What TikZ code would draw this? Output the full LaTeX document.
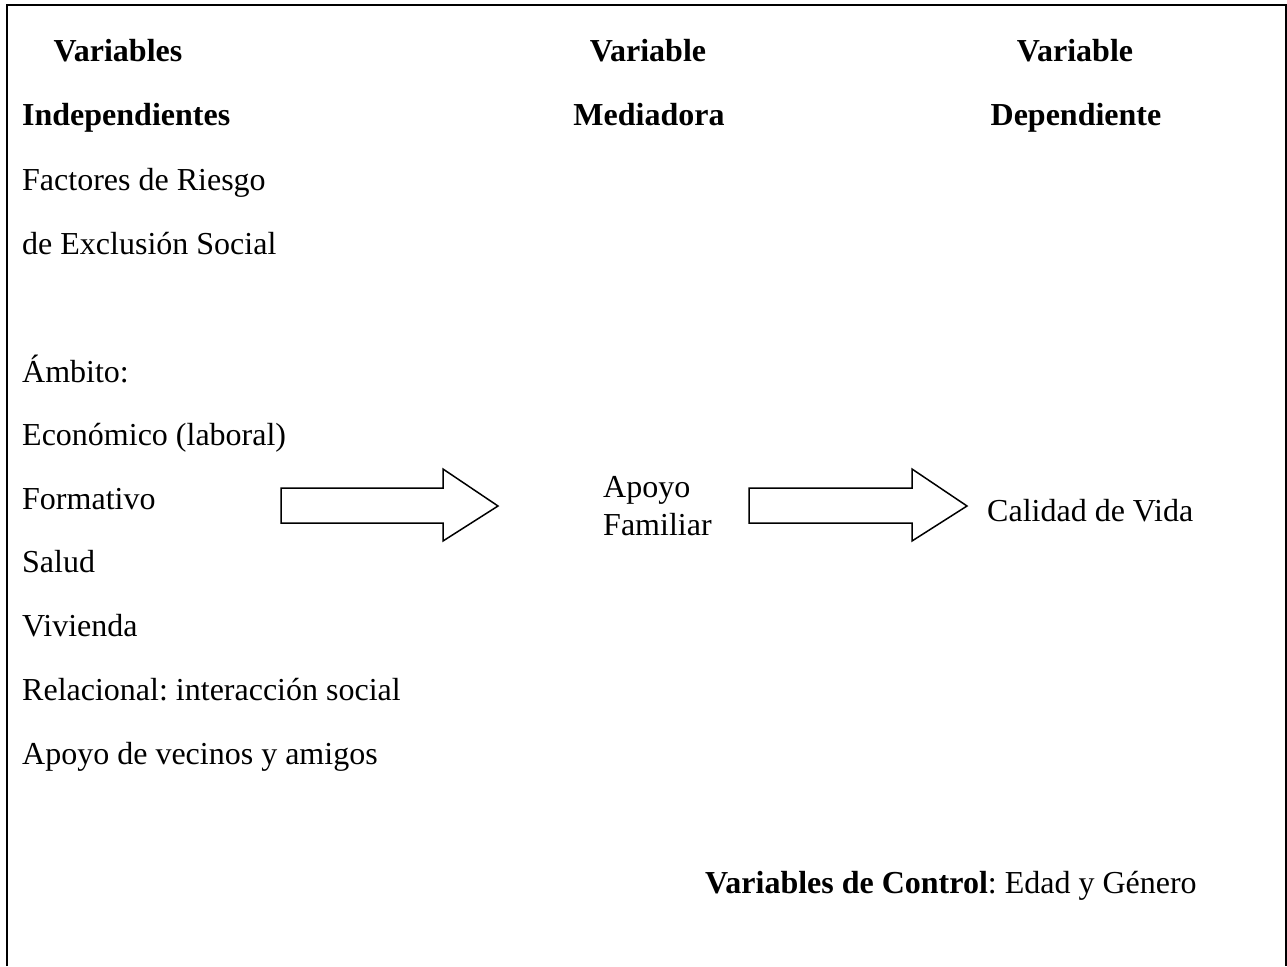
\documentclass[tikz,border=0pt]{standalone}
\usepackage{fontspec}
\setmainfont{Liberation Serif}
\usetikzlibrary{calc,positioning}
\frenchspacing

\tikzset{
  txt/.style={anchor=base west,inner sep=0pt,font=\fontsize{32}{38}\selectfont},
  head/.style={anchor=base,inner sep=0pt,font=\fontsize{32}{38}\selectfont\bfseries},
  blockarrow/.style={line width=1.5pt,line join=miter,fill=white}
}

\begin{document}
\begin{tikzpicture}[x=1pt,y=-1pt]
  \useasboundingbox (0,0) rectangle (1287,966);
  % frame, open at the bottom
  \draw [line width=2pt]
    (7,966) -- (7,5) -- (1286,5) -- (1286,966)
  ;
  % headers
  \node [head] (indep1) at (118,62) {Variables};
  \node [head,anchor=base west] (indep2) at (22,125) {Independientes};
  \node [head] (med1) at (648,62) {Variable};
  \node [head] (med2) at (649,125) {Mediadora};
  \node [head] (dep1) at (1075,62) {Variable};
  \node [head] (dep2) at (1076,125) {Dependiente};
  % independent variables
  \node [txt] (riesgo1) at (22,190) {Factores de Riesgo};
  \node [txt] (riesgo2) at (22,254) {de Exclusión Social};
  \node [txt] (ambito) at (22,382) {Ámbito:};
  \node [txt] (economico) at (22,445) {Económico (laboral)};
  \node [txt] (formativo) at (22,509) {Formativo};
  \node [txt] (salud) at (22,572) {Salud};
  \node [txt] (vivienda) at (22,636) {Vivienda};
  \node [txt] (relacional) at (22,700) {Relacional: interacción social};
  \node [txt] (vecinos) at (22,764) {Apoyo de vecinos y amigos};
  % mediator and dependent
  \node [txt] (apoyo1) at (603,497) {Apoyo};
  \node [txt] (apoyo2) at (603,535) {Familiar};
  \node [txt] (calidad) at (987,521) {Calidad de Vida};
  % control
  \node [txt] (control) at (705,893)
    {\textbf{Variables de Control}: Edad y Género};
  % block arrows
  \coordinate (arrowA) at (281,488);
  \coordinate (arrowB) at (749,488);
  \draw [blockarrow]
    (arrowA)
    -- ++(162,0)
    -- ++(0,-19)
    -- ++(55,37)
    -- ++(-55,35)
    -- ++(0,-18)
    -- ++(-162,0)
    -- cycle
  ;
  \draw [blockarrow]
    (arrowB)
    -- ++(163,0)
    -- ++(0,-19)
    -- ++(55,37)
    -- ++(-55,35)
    -- ++(0,-18)
    -- ++(-163,0)
    -- cycle
  ;
\end{tikzpicture}
\end{document}
